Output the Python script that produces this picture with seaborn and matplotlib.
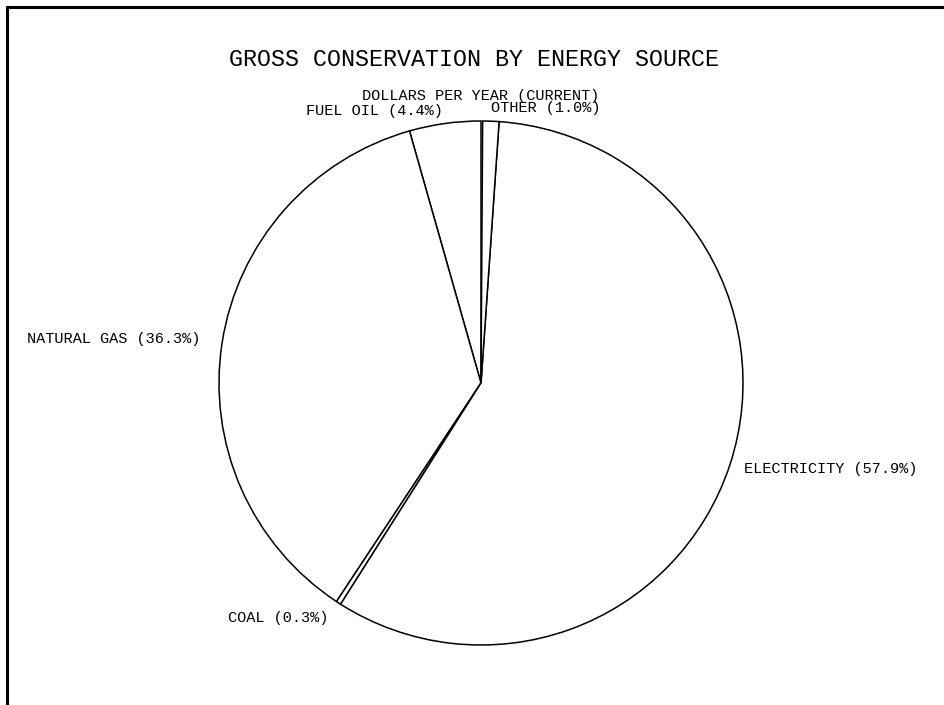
import matplotlib
matplotlib.use("Agg")
import numpy as np
import matplotlib.pyplot as plt
from matplotlib.lines import Line2D
import seaborn as sns

# Data (counter-clockwise from 12 o'clock)
sources = ["FUEL OIL", "NATURAL GAS", "COAL", "ELECTRICITY", "OTHER"]
shares = [4.4, 36.3, 0.3, 57.9, 1.0]
labels = [f"{s} ({v:.1f}%)" for s, v in zip(sources, shares)]
label_dist = [1.05, 1.085, 1.07, 1.055, 1.05]

title = "GROSS CONSERVATION BY ENERGY SOURCE"
subtitle = "DOLLARS PER YEAR (CURRENT)"

sns.set_theme(style="white")
plt.rcParams["font.family"] = ["Liberation Mono", "DejaVu Sans Mono"]

W, H = 945, 705
fig = plt.figure(figsize=(W / 100, H / 100), dpi=100)
fig.patch.set_facecolor("white")

# pie axes: centre (481, 383) px from top-left, radius 262 px
R = 262
cx, cy = 481, 383
side = R * 2.5
ax = fig.add_axes([(cx - side / 2) / W, (H - cy - side / 2) / H, side / W, side / H])

fractions = [v / 100 for v in shares]
wedges, texts = ax.pie(
    fractions,
    labels=labels,
    startangle=90,
    counterclock=True,
    normalize=False,
    labeldistance=1.06,
    colors=["white"] * len(shares),
    wedgeprops=dict(edgecolor="black", linewidth=1.1),
    textprops=dict(fontsize=11, color="black"),
)
# per-label radial distance, along each wedge's mid angle
for w, t, d in zip(wedges, texts, label_dist):
    ang = np.deg2rad((w.theta1 + w.theta2) / 2)
    t.set_position((d * np.cos(ang), d * np.sin(ang)))

ax.set_xlim(-1.25, 1.25)
ax.set_ylim(-1.25, 1.25)
ax.set_aspect("auto")
ax.axis("off")

fig.text(cx / W - 0.007, 1 - 59 / H, title, ha="center", va="center",
         fontsize=16.8, color="black")
fig.text(cx / W, 1 - 96 / H, subtitle, ha="center", va="center",
         fontsize=11, color="black")

# frame lines (top and left)
fig.add_artist(Line2D([7 / W, 1.0], [1 - 7 / H, 1 - 7 / H], color="black", lw=2.2,
                      transform=fig.transFigure))
fig.add_artist(Line2D([7 / W, 7 / W], [0.0, 1 - 7 / H], color="black", lw=2.2,
                      transform=fig.transFigure))

fig.savefig("out.png", dpi=100, facecolor="white")
